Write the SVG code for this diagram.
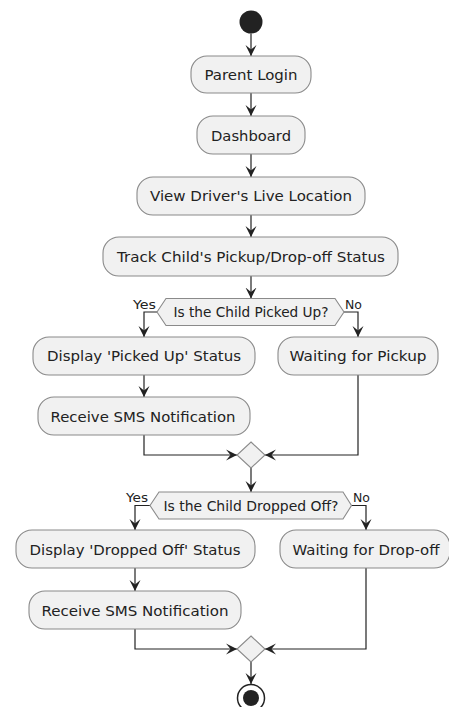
<svg xmlns="http://www.w3.org/2000/svg" width="449" height="707" viewBox="0 0 449 707">
<defs>
<style>
.box{fill:#F1F1F1;stroke:#8a8a8a;stroke-width:1.1}
.t{font-family:"DejaVu Sans","Liberation Sans",sans-serif;font-size:14px;fill:#222;text-anchor:middle}
.lbl{font-family:"DejaVu Sans","Liberation Sans",sans-serif;font-size:12px;fill:#222}
.ln{fill:none;stroke:#222;stroke-width:1.2}
</style>
<marker id="ah" viewBox="0 0 12 12" refX="11" refY="6" markerWidth="12" markerHeight="12" markerUnits="userSpaceOnUse" orient="auto">
<path d="M0,0.5 L11,6 L0,11.5 L4.5,6 Z" fill="#222"/>
</marker>
</defs>
<rect width="449" height="707" fill="#ffffff"/>
<g id="connectors">
<path class="ln" marker-end="url(#ah)" d="M251,33.5 V56"/>
<path class="ln" marker-end="url(#ah)" d="M251,93 V116"/>
<path class="ln" marker-end="url(#ah)" d="M251,154 V177"/>
<path class="ln" marker-end="url(#ah)" d="M251,215 V237"/>
<path class="ln" marker-end="url(#ah)" d="M251,276 V298.5"/>
<path class="ln" marker-end="url(#ah)" d="M157,312 H144 V337"/>
<path class="ln" marker-end="url(#ah)" d="M344,312 H358 V337"/>
<path class="ln" marker-end="url(#ah)" d="M144,375 V397"/>
<path class="ln" marker-end="url(#ah)" d="M144,435 V455 H237"/>
<path class="ln" marker-end="url(#ah)" d="M358,375 V455 H265"/>
<path class="ln" marker-end="url(#ah)" d="M251,468 V492"/>
<path class="ln" marker-end="url(#ah)" d="M150,505.5 H135 V530"/>
<path class="ln" marker-end="url(#ah)" d="M351.5,505.5 H366 V530"/>
<path class="ln" marker-end="url(#ah)" d="M135,568 V591"/>
<path class="ln" marker-end="url(#ah)" d="M135,629 V649 H237"/>
<path class="ln" marker-end="url(#ah)" d="M366,568 V649 H265"/>
<path class="ln" marker-end="url(#ah)" d="M251,662 V684"/>
<text class="lbl" x="133" y="309" textLength="23" lengthAdjust="spacingAndGlyphs">Yes</text>
<text class="lbl" x="345" y="309" textLength="17" lengthAdjust="spacingAndGlyphs">No</text>
<text class="lbl" x="126" y="502" textLength="22" lengthAdjust="spacingAndGlyphs">Yes</text>
<text class="lbl" x="353" y="502" textLength="17" lengthAdjust="spacingAndGlyphs">No</text>
</g>
<g id="start"><circle cx="251" cy="22" r="11.5" fill="#222"/></g>
<g id="parent-login"><rect class="box" x="191" y="56" width="120" height="37" rx="16"/><text class="t" x="251" y="80" textLength="93" lengthAdjust="spacingAndGlyphs">Parent Login</text></g>
<g id="dashboard"><rect class="box" x="197" y="116" width="108" height="38" rx="16"/><text class="t" x="251" y="141" textLength="80" lengthAdjust="spacingAndGlyphs">Dashboard</text></g>
<g id="view-driver"><rect class="box" x="137" y="177" width="228" height="38" rx="16"/><text class="t" x="251" y="201" textLength="202" lengthAdjust="spacingAndGlyphs">View Driver's Live Location</text></g>
<g id="track"><rect class="box" x="103" y="237" width="295" height="39" rx="16"/><text class="t" x="251" y="262" textLength="268" lengthAdjust="spacingAndGlyphs">Track Child's Pickup/Drop-off Status</text></g>
<g id="decision-picked"><polygon class="box" points="157,312 166,298.5 335,298.5 344,312 335,325.5 166,325.5"/><text class="t" x="251" y="317" textLength="155" lengthAdjust="spacingAndGlyphs">Is the Child Picked Up?</text></g>
<g id="display-picked"><rect class="box" x="33" y="337" width="222" height="38" rx="16"/><text class="t" x="144" y="361" textLength="194" lengthAdjust="spacingAndGlyphs">Display 'Picked Up' Status</text></g>
<g id="waiting-pickup"><rect class="box" x="278" y="337" width="160" height="38" rx="16"/><text class="t" x="358" y="361" textLength="137" lengthAdjust="spacingAndGlyphs">Waiting for Pickup</text></g>
<g id="sms-1"><rect class="box" x="38" y="397" width="212" height="38" rx="16"/><text class="t" x="143" y="421.5" textLength="185" lengthAdjust="spacingAndGlyphs">Receive SMS Notification</text></g>
<g id="merge-1"><polygon class="box" points="251,442 265,455 251,468 237,455"/></g>
<g id="decision-dropped"><polygon class="box" points="150,505.5 159,492 343,492 351.5,505.5 343,519 159,519"/><text class="t" x="251" y="510.5" textLength="175" lengthAdjust="spacingAndGlyphs">Is the Child Dropped Off?</text></g>
<g id="display-dropped"><rect class="box" x="16" y="530" width="239" height="38" rx="16"/><text class="t" x="135" y="554.5" textLength="211" lengthAdjust="spacingAndGlyphs">Display 'Dropped Off' Status</text></g>
<g id="waiting-dropoff"><rect class="box" x="280" y="530" width="170" height="38" rx="16"/><text class="t" x="366" y="554.5" textLength="147" lengthAdjust="spacingAndGlyphs">Waiting for Drop-off</text></g>
<g id="sms-2"><rect class="box" x="29" y="591" width="212" height="38" rx="16"/><text class="t" x="135" y="615.5" textLength="187" lengthAdjust="spacingAndGlyphs">Receive SMS Notification</text></g>
<g id="merge-2"><polygon class="box" points="251,636 265,649 251,662 237,649"/></g>
<g id="end"><circle cx="251" cy="698" r="13.5" fill="#fff" stroke="#222" stroke-width="1.5"/><circle cx="251" cy="698" r="8" fill="#222"/></g>
</svg>
